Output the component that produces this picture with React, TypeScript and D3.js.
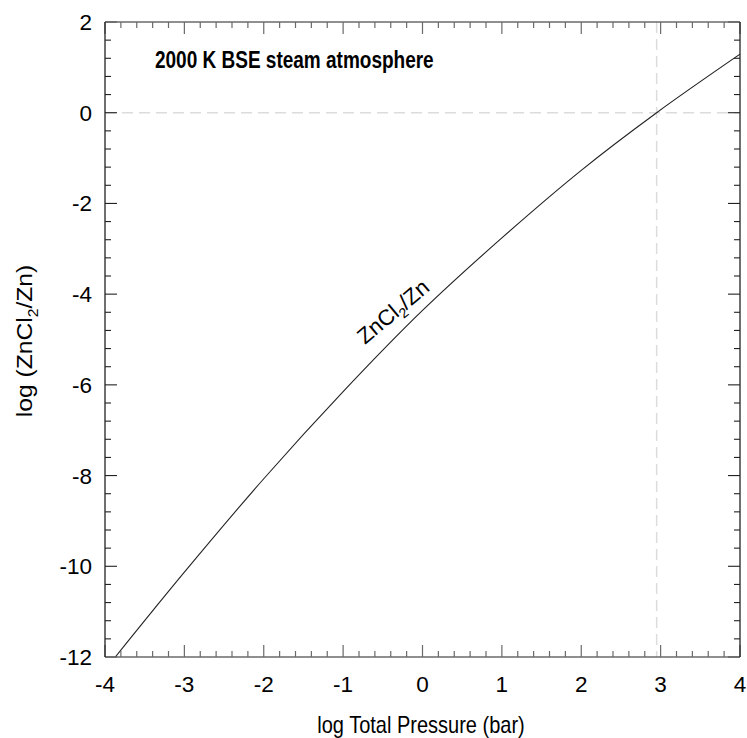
import React from "react";
import * as d3 from "d3";

const curveX = [-3.87, -3, -2, -1, 0, 1, 2, 2.95, 4];
const curveY = [-12, -10.13, -8.07, -6.15, -4.36, -2.76, -1.27, 0, 1.29];
const xTicks = [-4, -3, -2, -1, 0, 1, 2, 3, 4];
const yTicks = [2, 0, -2, -4, -6, -8, -10, -12];
const refX = 2.95;
const refY = 0;
const title = "2000 K BSE steam atmosphere";
const xTitle = "log Total Pressure (bar)";

export default function App() {
  const W = 747, H = 738;
  const L = 105, R = 740, T = 22, B = 657;
  const x = d3.scaleLinear().domain([-4, 4]).range([L, R]);
  const y = d3.scaleLinear().domain([-12, 2]).range([B, T]);
  const pts: [number, number][] = curveX.map((v, i) => [v, curveY[i]]);
  const line = d3
    .line<[number, number]>()
    .x((d) => x(d[0]))
    .y((d) => y(d[1]))
    .curve(d3.curveCatmullRom.alpha(0.5));
  const xMinor = d3.range(-4, 4.001, 0.2);
  const yMinor = d3.range(-12, 2.001, 0.4);
  const font = "Liberation Sans, Arial, Helvetica, sans-serif";
  const hc = "#6a6a6a";
  const vc = "#222";
  const isMajor = (v: number, step: number) => Math.abs(v / step - Math.round(v / step)) < 1e-6;

  return (
    <svg width={W} height={H} style={{ position: "absolute", left: 0, top: 0 }} fontFamily={font}>
      <rect width={W} height={H} fill="#fff" />
      <defs>
        <clipPath id="clip">
          <rect x={L} y={T} width={R - L} height={B - T} />
        </clipPath>
      </defs>
      <line x1={L} x2={R} y1={y(refY)} y2={y(refY)} stroke="#dcdcdc" strokeWidth={1.5} strokeDasharray="11,6" />
      <line x1={x(refX)} x2={x(refX)} y1={T} y2={B} stroke="#dcdcdc" strokeWidth={1.5} strokeDasharray="11,6" />
      <path d={line(pts) || ""} fill="none" stroke="#222" strokeWidth={1.1} clipPath="url(#clip)" />
      {xMinor.map((v, i) => {
        const len = isMajor(v, 1) ? 12 : 6;
        return (
          <g key={"xt" + i}>
            <line x1={x(v)} x2={x(v)} y1={B} y2={B - len} stroke={hc} strokeWidth={1.2} />
            <line x1={x(v)} x2={x(v)} y1={T} y2={T + len} stroke={hc} strokeWidth={1.2} />
          </g>
        );
      })}
      {yMinor.map((v, i) => {
        const len = isMajor(v, 2) ? 12 : 6;
        return (
          <g key={"yt" + i}>
            <line x1={L} x2={L + len} y1={y(v)} y2={y(v)} stroke={vc} strokeWidth={1.1} />
            <line x1={R} x2={R - len} y1={y(v)} y2={y(v)} stroke={vc} strokeWidth={1.1} />
          </g>
        );
      })}
      <line x1={L} x2={R} y1={T} y2={T} stroke={hc} strokeWidth={1.5} />
      <line x1={L} x2={R} y1={B} y2={B} stroke={hc} strokeWidth={1.5} />
      <line x1={L} x2={L} y1={T} y2={B} stroke={vc} strokeWidth={1.3} />
      <line x1={R} x2={R} y1={T} y2={B} stroke={vc} strokeWidth={1.3} />
      {xTicks.map((v) => (
        <text key={"xl" + v} x={x(v)} y={692} textAnchor="middle" fontSize={22.5} fill="#000">
          {v < 0 ? "-" + Math.abs(v) : String(v)}
        </text>
      ))}
      {yTicks.map((v) => (
        <text key={"yl" + v} x={92} y={y(v) + 8} textAnchor="end" fontSize={22.5} fill="#000">
          {v < 0 ? "-" + Math.abs(v) : String(v)}
        </text>
      ))}
      <text transform="translate(421,733) scale(1,1.2)" textAnchor="middle" fontSize={20} fill="#000">
        {xTitle}
      </text>
      <text transform="translate(32,341) scale(1,1.12) rotate(-90)" textAnchor="middle" fontSize={22} fill="#000">
        log (ZnCl<tspan fontSize={14} dy={6}>2</tspan>
        <tspan dy={-6}>/Zn)</tspan>
      </text>
      <text transform="translate(155,68) scale(1,1.28)" fontSize={19} fontWeight="bold" fill="#000">
        {title}
      </text>
      <text transform="translate(365,345) rotate(-40)" fontSize={22} fill="#000">
        ZnCl<tspan fontSize={14} dy={5}>2</tspan>
        <tspan dy={-5}>/Zn</tspan>
      </text>
    </svg>
  );
}
